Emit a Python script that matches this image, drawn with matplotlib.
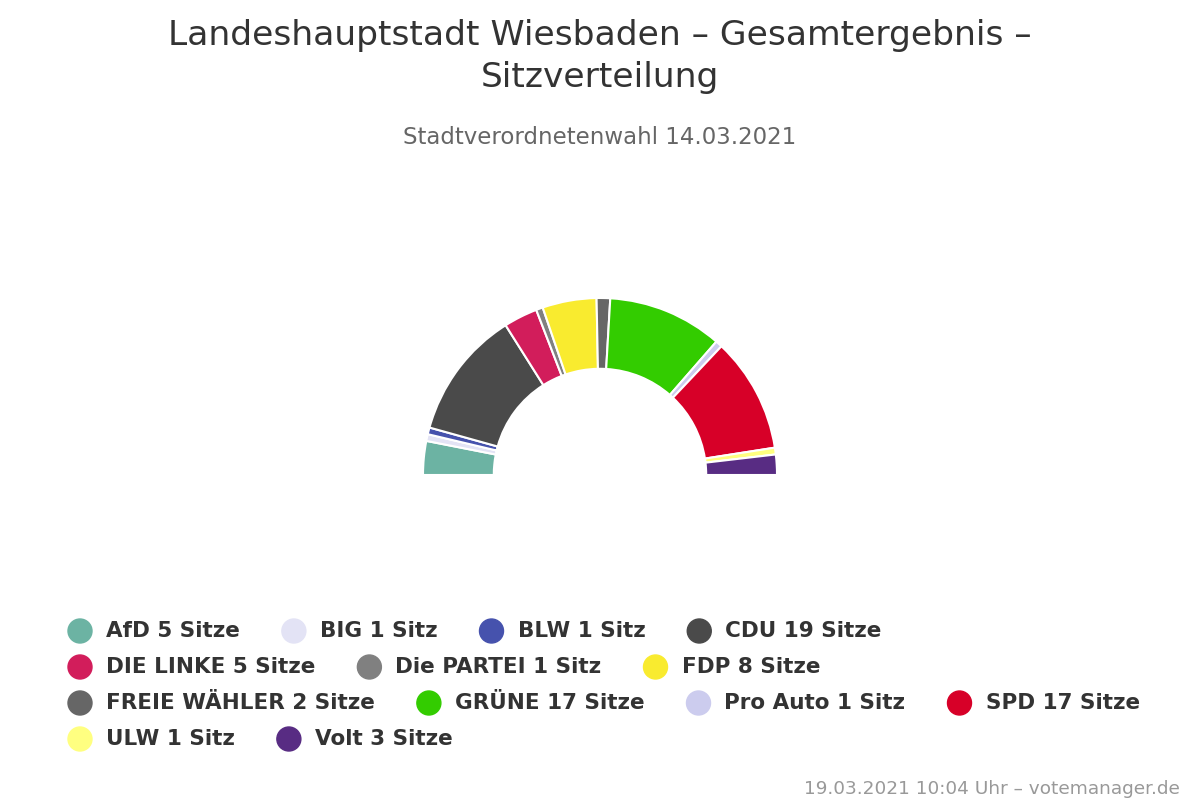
import matplotlib.pyplot as plt
from matplotlib.patches import Ellipse

parties = ["AfD", "BIG", "BLW", "CDU", "DIE LINKE", "Die PARTEI", "FDP",
           "FREIE WÄHLER", "GRÜNE", "Pro Auto", "SPD", "ULW", "Volt"]
seats = [5, 1, 1, 19, 5, 1, 8, 2, 17, 1, 17, 1, 3]
colors = ["#6cb3a3", "#e3e3f5", "#4652ad", "#4a4a4a", "#d21d5b", "#808080", "#f9eb2f",
          "#666666", "#33cc00", "#ccccee", "#d70028", "#ffff80", "#582c83"]

W, H = 1200, 800
fig = plt.figure(figsize=(12, 8), dpi=100)
fig.patch.set_facecolor("white")

fig.text(0.5, 1 - 36 / H, "Landeshauptstadt Wiesbaden – Gesamtergebnis –",
         ha="center", va="center", fontsize=24.8, color="#333333")
fig.text(0.5, 1 - 77 / H, "Sitzverteilung",
         ha="center", va="center", fontsize=24.8, color="#333333")
fig.text(0.5, 1 - 137 / H, "Stadtverordnetenwahl 14.03.2021",
         ha="center", va="center", fontsize=16.5, color="#666666")
fig.text(1 - 20 / W, 1 - 789 / H, "19.03.2021 10:04 Uhr – votemanager.de",
         ha="right", va="center", fontsize=13.3, color="#999999")

# half donut
cx, cy, r = 600, 475, 177
ax = fig.add_axes([(cx - r) / W, (H - cy - r) / H, 2 * r / W, 2 * r / H])
total = sum(seats)
ax.pie([s / total / 2 for s in seats], colors=colors, startangle=180,
       counterclock=False, normalize=False, radius=1,
       wedgeprops=dict(width=0.4, edgecolor="white", linewidth=1.5))
ax.set_xlim(-1, 1)
ax.set_ylim(-1, 1)
ax.set_aspect("equal")
ax.axis("off")

# legend, flowed like the original
labels = [f"{p} {s} {'Sitz' if s == 1 else 'Sitze'}" for p, s in zip(parties, seats)]
fig.canvas.draw()
renderer = fig.canvas.get_renderer()
x0, xmax = 68, 1150
row_y = [631, 667, 703, 739]
x, row = x0, 0
for lab, col in zip(labels, colors):
    t = fig.text(0, 0, lab, fontsize=15.5, fontweight="bold", color="#333333",
                 ha="left", va="center")
    tw = t.get_window_extent(renderer).width
    if x + 38 + tw > xmax and x > x0:
        row += 1
        x = x0
    y = H - row_y[row]
    t.set_position(((x + 38) / W, y / H))
    fig.patches.append(Ellipse(((x + 12) / W, y / H), 24 / W, 24 / H, color=col,
                               transform=fig.transFigure, figure=fig))
    x += 38 + tw + 42

fig.savefig("out.png", dpi=100)
